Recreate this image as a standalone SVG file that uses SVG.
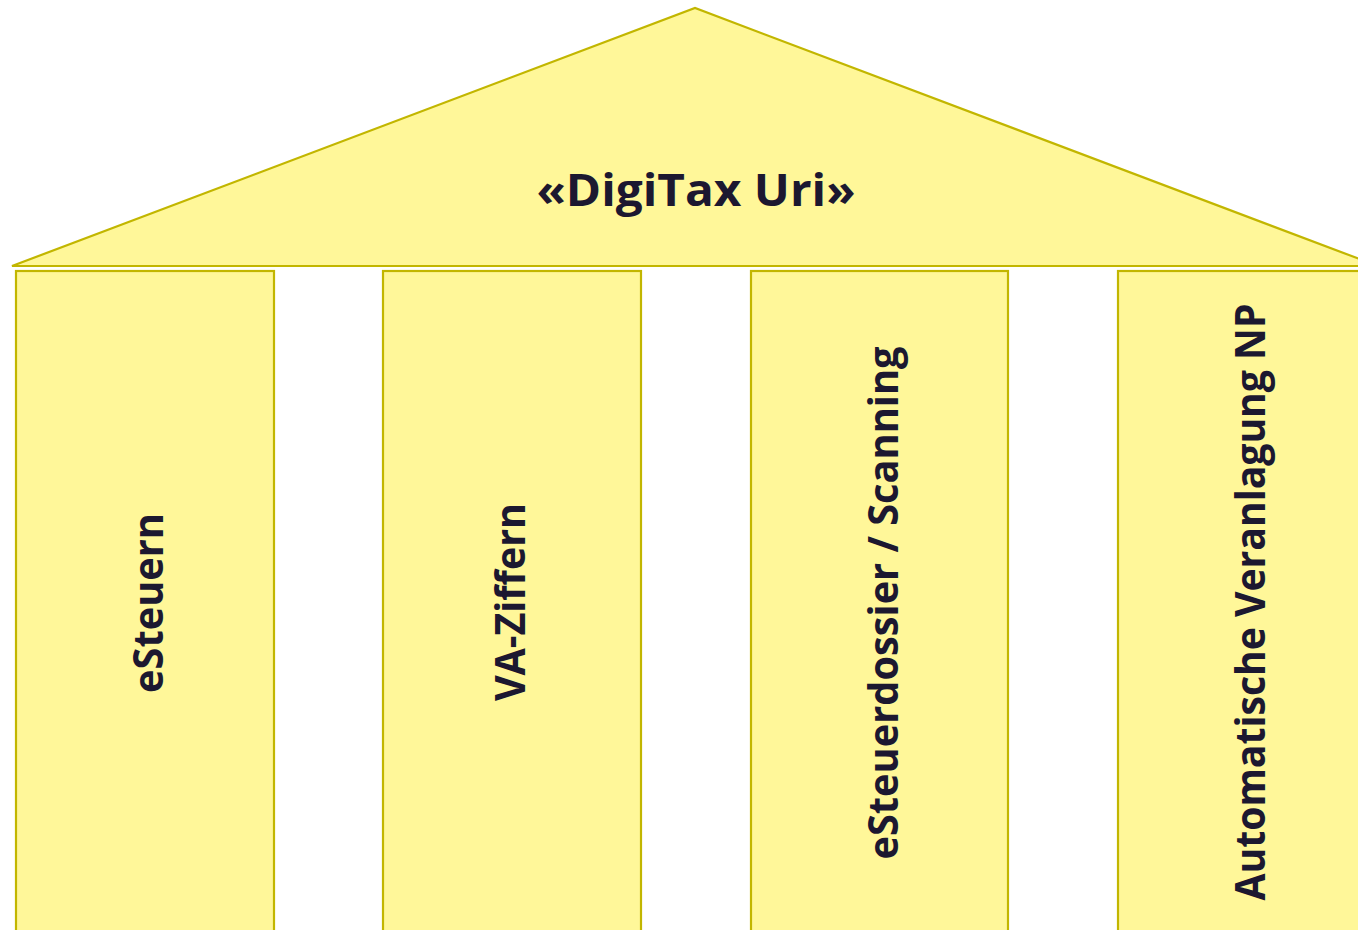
<svg xmlns="http://www.w3.org/2000/svg" width="1358" height="930" viewBox="0 0 1358 930">
  <style>
    .shape { fill: #fff799; stroke: #c2b600; stroke-width: 2.2; }
    .lbl { font-family: "Open Sans", "Liberation Sans", sans-serif; font-weight: bold; fill: #1c1830; text-anchor: middle; }
  </style>
  <rect width="1358" height="930" fill="#ffffff"/>
  <g id="roof">
    <polygon class="shape" points="12,266 695,8 1378,266"/>
    <text class="lbl" x="696" y="206" font-size="44" textLength="319" lengthAdjust="spacingAndGlyphs">«DigiTax Uri»</text>
  </g>
  <g id="pillar-esteuern">
    <rect class="shape" x="16" y="271" width="258" height="700"/>
    <text class="lbl" transform="translate(163,603) rotate(-90)" x="0" y="0" font-size="41" textLength="180" lengthAdjust="spacingAndGlyphs">eSteuern</text>
  </g>
  <g id="pillar-va-ziffern">
    <rect class="shape" x="383" y="271" width="258" height="700"/>
    <text class="lbl" transform="translate(525,602) rotate(-90)" x="0" y="0" font-size="41" textLength="198" lengthAdjust="spacingAndGlyphs">VA-Ziffern</text>
  </g>
  <g id="pillar-esteuerdossier">
    <rect class="shape" x="751" y="271" width="257" height="700"/>
    <text class="lbl" transform="translate(898,603) rotate(-90)" x="0" y="0" font-size="41" textLength="513" lengthAdjust="spacingAndGlyphs">eSteuerdossier / Scanning</text>
  </g>
  <g id="pillar-automatische">
    <rect class="shape" x="1118" y="271" width="258" height="700"/>
    <text class="lbl" transform="translate(1265,602) rotate(-90)" x="0" y="0" font-size="41" textLength="597" lengthAdjust="spacingAndGlyphs">Automatische Veranlagung NP</text>
  </g>
  <g id="connectors"></g>
</svg>
